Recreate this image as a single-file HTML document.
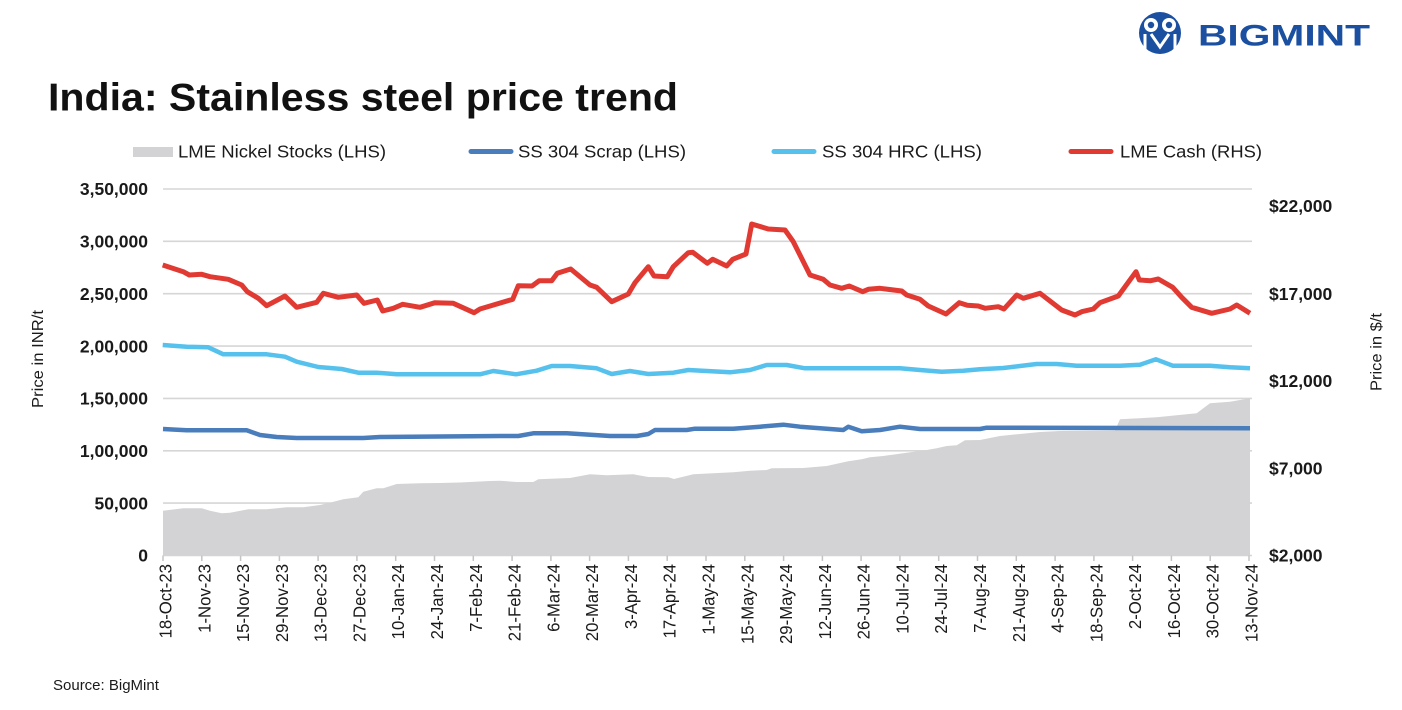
<!DOCTYPE html>
<html><head><meta charset="utf-8"><style>
html,body{margin:0;padding:0;background:#fff;}
svg{display:block;}
text{font-family:"Liberation Sans",Arial,sans-serif;}
</style></head><body>
<svg width="1402" height="710" viewBox="0 0 1402 710" xmlns="http://www.w3.org/2000/svg">
<rect width="1402" height="710" fill="#fff"/>
<!-- Logo -->
<g>
<circle cx="1160" cy="33" r="21" fill="#1b4fa0"/>
<circle cx="1151" cy="25" r="7" fill="#fff"/>
<circle cx="1169" cy="25" r="7" fill="#fff"/>
<circle cx="1151" cy="25" r="3.2" fill="#1b4fa0"/>
<circle cx="1169" cy="25" r="3.2" fill="#1b4fa0"/>
<path d="M1145 34 L1145 50 M1175 34 L1175 50 M1151 34 L1160 47 L1169 34" stroke="#fff" stroke-width="3" fill="none"/>
<text x="1198" y="45.7" font-size="30" font-weight="bold" fill="#1b4fa0" textLength="172" lengthAdjust="spacingAndGlyphs">BIGMINT</text>
</g>
<!-- Title -->
<text x="48" y="110.7" font-size="39" font-weight="bold" fill="#111" textLength="630" lengthAdjust="spacingAndGlyphs">India: Stainless steel price trend</text>
<!-- Legend -->
<rect x="133" y="147" width="40" height="10" fill="#d3d3d5"/>
<text x="178" y="157.5" font-size="17.5" fill="#1a1a1a" textLength="208" lengthAdjust="spacingAndGlyphs">LME Nickel Stocks (LHS)</text>
<line x1="471" y1="151.5" x2="511" y2="151.5" stroke="#4a7dbb" stroke-width="5" stroke-linecap="round"/>
<text x="518" y="157.5" font-size="17.5" fill="#1a1a1a" textLength="168" lengthAdjust="spacingAndGlyphs">SS 304 Scrap (LHS)</text>
<line x1="774" y1="151.5" x2="814" y2="151.5" stroke="#56c1ec" stroke-width="5" stroke-linecap="round"/>
<text x="822" y="157.5" font-size="17.5" fill="#1a1a1a" textLength="160" lengthAdjust="spacingAndGlyphs">SS 304 HRC (LHS)</text>
<line x1="1071" y1="151.5" x2="1111" y2="151.5" stroke="#e03a33" stroke-width="5" stroke-linecap="round"/>
<text x="1120" y="157.5" font-size="17.5" fill="#1a1a1a" textLength="142" lengthAdjust="spacingAndGlyphs">LME Cash (RHS)</text>
<!-- Gridlines -->
<g stroke="#d6d6d6" stroke-width="1.6">
<line x1="163" y1="189" x2="1252" y2="189"/>
<line x1="163" y1="241.3" x2="1252" y2="241.3"/>
<line x1="163" y1="293.7" x2="1252" y2="293.7"/>
<line x1="163" y1="346.1" x2="1252" y2="346.1"/>
<line x1="163" y1="398.4" x2="1252" y2="398.4"/>
<line x1="163" y1="450.8" x2="1252" y2="450.8"/>
<line x1="163" y1="503.1" x2="1252" y2="503.1"/>
<line x1="163" y1="555.5" x2="1252" y2="555.5"/>
</g>
<!-- Nickel stocks area -->
<polygon fill="#d3d3d5" points="163,555.5 163,510.7 183.3,508.3 201.7,508.3 210,510.7 221.7,513.3 230,512.7 248.3,509.3 266.7,509.3 286.7,507.3 303.3,507.3 320,505 331.7,502.3 343.3,499.3 358.3,497.3 363.3,491.7 376.7,488.3 383.3,488.3 396.7,484 420,483.3 440,483 460,482.5 470,482 490,481 500,480.7 516.7,482 533.3,482 538.3,479.3 570,478 590,474.3 606.7,475.3 633.3,474.3 648.3,477 668.3,477.3 674,479 693.3,474.3 733.3,472.3 750,470.7 766.7,470 771.7,468.3 803.3,468 826.7,466 848.3,461.3 861.7,459.3 870,457.3 883.3,456 906.7,452.7 926.7,450 936.7,448.3 946.7,446 956.7,445.3 965,440.3 980,440 1000,436 1020,434 1040,432 1060,431 1115,430.5 1120,419.3 1156.7,417.3 1196.7,413.3 1210,403.3 1230,401.7 1250,398.3 1250,555.5"/>
<!-- x ticks -->
<g stroke="#c4c4c4" stroke-width="1.5" id="ticks"></g>
<!-- Scrap -->
<polyline fill="none" stroke="#4a7dbb" stroke-width="4.5" stroke-linejoin="round" points="163,429 186.7,430.3 246.7,430.3 260,435 276.7,437 296.7,438 363.3,438 380,437 500,436 518.3,436 533.3,433.3 566.7,433.3 610,436 636.7,436 648.3,434 655,430 686.7,430 695,428.7 733.3,428.7 760,426.7 783.3,424.7 800,426.7 843.3,430 848.3,426.7 861.7,431.3 880,430 900,426.7 920,429 980,429 986.7,427.7 1250,428.3"/>
<!-- HRC -->
<polyline fill="none" stroke="#56c1ec" stroke-width="4.5" stroke-linejoin="round" points="162.7,345 186.7,346.7 208.3,347.3 223.3,354.3 266.7,354.3 285,356.7 296.7,361.7 318.3,367 341.7,369 358.3,372.7 376.7,372.7 396.7,374.3 480,374.3 493.3,371 516,374.3 536.7,370.7 551.7,366 570,366 596.7,368.3 611.7,374 630,371 648.3,374 673.3,372.7 688.3,370 730,372.3 750,370 766.7,365 786.7,365 805,368.3 900,368.3 920,370 941.7,371.7 963.3,370.7 980,369.3 1003.3,368 1020,366 1036.7,364 1056.7,364 1076.7,365.7 1120,365.7 1140,364.7 1156,359.3 1172.7,365.7 1210,365.7 1230,367.3 1250,368.3"/>
<!-- LME Cash -->
<polyline fill="none" stroke="#e03a33" stroke-width="5" stroke-linejoin="round" points="162.7,265 183.3,271.7 189.3,275 201.7,274.3 210,276.7 228.3,279.3 241.7,285 247.3,291.7 258.3,298.3 266.7,305.7 285,296 296.7,307.3 316.7,302.3 323.3,293.3 338.3,297.3 356.7,295 364,303.3 377.3,300 382.7,311 393.3,308.3 402.7,304.3 420,307.3 435,302.7 453.3,303.3 474,312.7 480,309 512.7,299.3 518.3,285.7 532,286 539.3,280.7 551.7,280.7 557.3,273.3 570.7,269 590,285 596.7,287.3 611.7,301.7 628.3,294 635,282.7 648.3,266.7 654,276 667.3,276.7 673.3,266.7 688.3,252.7 692.7,252.3 707.3,263.3 712.7,259.3 726.7,266 732.7,259.3 746,254 751.7,224 768.3,229 785,230 793.3,241.7 810,275 823.3,279.3 830,285 841.7,288.3 849.3,286 862.7,291.7 868.3,289.3 880,288.3 901.7,291 906.7,295 920,299.3 928.3,306 946,314 959.3,302.7 967.3,305.3 978.3,306 985,308.3 998.3,306.7 1004,309 1016.7,295 1023.3,298.3 1040,293.3 1061.7,310 1075,315 1081.7,311.7 1093.3,309 1100,302.7 1118.3,296 1136,271.7 1139.3,280 1150.7,280.7 1158.3,279 1172.7,287.3 1181.7,297.3 1191.7,307.3 1211.7,313.3 1230,309 1236.7,305 1250,313.3"/>
<!-- Left axis labels -->
<g font-size="17.5" font-weight="bold" fill="#1a1a1a" text-anchor="end">
<text x="148" y="195.2">3,50,000</text>
<text x="148" y="247.5">3,00,000</text>
<text x="148" y="299.9">2,50,000</text>
<text x="148" y="352.3">2,00,000</text>
<text x="148" y="404.6">1,50,000</text>
<text x="148" y="457">1,00,000</text>
<text x="148" y="509.3">50,000</text>
<text x="148" y="561.7">0</text>
</g>
<!-- Right axis labels -->
<g font-size="17.5" font-weight="bold" fill="#1a1a1a">
<text x="1269" y="212.2">$22,000</text>
<text x="1269" y="300.2">$17,000</text>
<text x="1269" y="387.2">$12,000</text>
<text x="1269" y="474.5">$7,000</text>
<text x="1269" y="561.5">$2,000</text>
</g>
<!-- Axis titles -->
<text transform="translate(43,359) rotate(-90)" text-anchor="middle" font-size="16" fill="#1a1a1a" textLength="98" lengthAdjust="spacingAndGlyphs">Price in INR/t</text>
<text transform="translate(1381.5,352) rotate(-90)" text-anchor="middle" font-size="16" fill="#1a1a1a" textLength="78" lengthAdjust="spacingAndGlyphs">Price in $/t</text>
<!-- X ticks and labels -->
<g stroke="#c4c4c4" stroke-width="1.5">
<line x1="163" y1="555.5" x2="163" y2="561"/><line x1="201.8" y1="555.5" x2="201.8" y2="561"/><line x1="240.6" y1="555.5" x2="240.6" y2="561"/><line x1="279.4" y1="555.5" x2="279.4" y2="561"/><line x1="318.1" y1="555.5" x2="318.1" y2="561"/><line x1="356.9" y1="555.5" x2="356.9" y2="561"/><line x1="395.7" y1="555.5" x2="395.7" y2="561"/><line x1="434.5" y1="555.5" x2="434.5" y2="561"/><line x1="473.3" y1="555.5" x2="473.3" y2="561"/><line x1="512.1" y1="555.5" x2="512.1" y2="561"/><line x1="550.9" y1="555.5" x2="550.9" y2="561"/><line x1="589.6" y1="555.5" x2="589.6" y2="561"/><line x1="628.4" y1="555.5" x2="628.4" y2="561"/><line x1="667.2" y1="555.5" x2="667.2" y2="561"/><line x1="706" y1="555.5" x2="706" y2="561"/><line x1="744.8" y1="555.5" x2="744.8" y2="561"/><line x1="783.6" y1="555.5" x2="783.6" y2="561"/><line x1="822.4" y1="555.5" x2="822.4" y2="561"/><line x1="861.1" y1="555.5" x2="861.1" y2="561"/><line x1="899.9" y1="555.5" x2="899.9" y2="561"/><line x1="938.7" y1="555.5" x2="938.7" y2="561"/><line x1="977.5" y1="555.5" x2="977.5" y2="561"/><line x1="1016.3" y1="555.5" x2="1016.3" y2="561"/><line x1="1055.1" y1="555.5" x2="1055.1" y2="561"/><line x1="1093.9" y1="555.5" x2="1093.9" y2="561"/><line x1="1132.6" y1="555.5" x2="1132.6" y2="561"/><line x1="1171.4" y1="555.5" x2="1171.4" y2="561"/><line x1="1210.2" y1="555.5" x2="1210.2" y2="561"/><line x1="1249" y1="555.5" x2="1249" y2="561"/>
</g>
<g font-size="18" fill="#1a1a1a" text-anchor="end">
<text transform="translate(171.5,564) rotate(-90) scale(0.93,1)">18-Oct-23</text>
<text transform="translate(210.3,564) rotate(-90) scale(0.93,1)">1-Nov-23</text>
<text transform="translate(249.1,564) rotate(-90) scale(0.93,1)">15-Nov-23</text>
<text transform="translate(287.9,564) rotate(-90) scale(0.93,1)">29-Nov-23</text>
<text transform="translate(326.6,564) rotate(-90) scale(0.93,1)">13-Dec-23</text>
<text transform="translate(365.4,564) rotate(-90) scale(0.93,1)">27-Dec-23</text>
<text transform="translate(404.2,564) rotate(-90) scale(0.93,1)">10-Jan-24</text>
<text transform="translate(443,564) rotate(-90) scale(0.93,1)">24-Jan-24</text>
<text transform="translate(481.8,564) rotate(-90) scale(0.93,1)">7-Feb-24</text>
<text transform="translate(520.6,564) rotate(-90) scale(0.93,1)">21-Feb-24</text>
<text transform="translate(559.4,564) rotate(-90) scale(0.93,1)">6-Mar-24</text>
<text transform="translate(598.1,564) rotate(-90) scale(0.93,1)">20-Mar-24</text>
<text transform="translate(636.9,564) rotate(-90) scale(0.93,1)">3-Apr-24</text>
<text transform="translate(675.7,564) rotate(-90) scale(0.93,1)">17-Apr-24</text>
<text transform="translate(714.5,564) rotate(-90) scale(0.93,1)">1-May-24</text>
<text transform="translate(753.3,564) rotate(-90) scale(0.93,1)">15-May-24</text>
<text transform="translate(792.1,564) rotate(-90) scale(0.93,1)">29-May-24</text>
<text transform="translate(830.9,564) rotate(-90) scale(0.93,1)">12-Jun-24</text>
<text transform="translate(869.6,564) rotate(-90) scale(0.93,1)">26-Jun-24</text>
<text transform="translate(908.4,564) rotate(-90) scale(0.93,1)">10-Jul-24</text>
<text transform="translate(947.2,564) rotate(-90) scale(0.93,1)">24-Jul-24</text>
<text transform="translate(986,564) rotate(-90) scale(0.93,1)">7-Aug-24</text>
<text transform="translate(1024.8,564) rotate(-90) scale(0.93,1)">21-Aug-24</text>
<text transform="translate(1063.6,564) rotate(-90) scale(0.93,1)">4-Sep-24</text>
<text transform="translate(1102.4,564) rotate(-90) scale(0.93,1)">18-Sep-24</text>
<text transform="translate(1141.1,564) rotate(-90) scale(0.93,1)">2-Oct-24</text>
<text transform="translate(1179.9,564) rotate(-90) scale(0.93,1)">16-Oct-24</text>
<text transform="translate(1218.7,564) rotate(-90) scale(0.93,1)">30-Oct-24</text>
<text transform="translate(1257.5,564) rotate(-90) scale(0.93,1)">13-Nov-24</text>
</g>
<!-- Source -->
<text x="53" y="690" font-size="15" fill="#1a1a1a">Source: BigMint</text>
</svg>
</body></html>
